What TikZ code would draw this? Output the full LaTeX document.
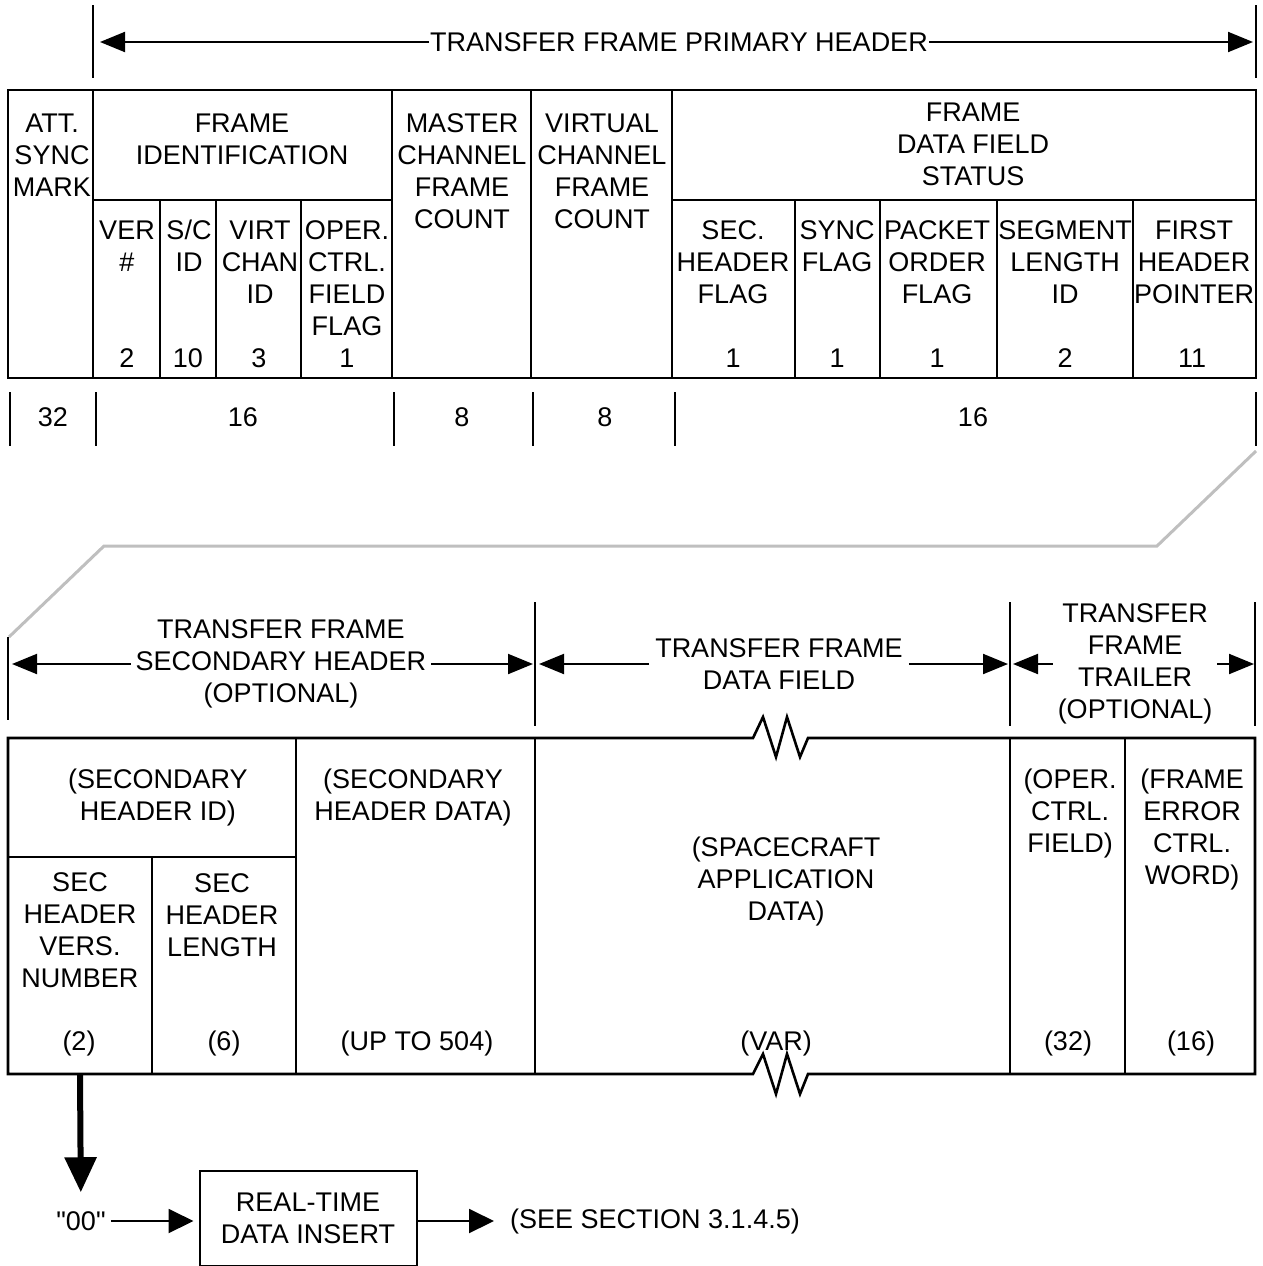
\documentclass[tikz,border=0pt]{standalone}
\usepackage{fontspec}
\setmainfont{Liberation Sans}[Ligatures=TeXOff]
\usetikzlibrary{arrows.meta,positioning}

\tikzset{
  lbl/.style={align=center, inner sep=5pt, font=\fontsize{27}{32}\selectfont},
  span/.style={lbl, fill=white, inner ysep=0pt},
  grid/.style={line width=2.6pt},
  tick/.style={line width=2pt},
  dim/.style={line width=2pt, -{Triangle[length=25pt,width=20pt]}},
  flow/.style={line width=2pt, -{Triangle[length=25pt,width=24pt]}},
  bigflow/.style={line width=6pt, -{Triangle[length=35pt,width=31pt]}},
  fold/.style={line width=3pt, draw=black!25},
}

\begin{document}
\begin{tikzpicture}[x=1pt,y=-1pt]
  \useasboundingbox (0,0) rectangle (1262,1266);

  %primary header span
  \draw[tick] (93,5) -- (93,78);
  \draw[tick] (1256,5) -- (1256,78);
  \node[span, inner xsep=1pt] (primary) at (679,42) {TRANSFER FRAME PRIMARY HEADER};
  \coordinate (primary l) at (100,42);
  \coordinate (primary r) at (1253,42);
  \draw[dim] (primary) -- (primary l);
  \draw[dim] (primary) -- (primary r);

  %primary header table
  \draw[grid] (8,90) rectangle (1256,378);
  \foreach \x in {93,392,531,672} \draw[grid] (\x,90) -- (\x,378);
  \draw[grid] (93,200) -- (392,200) (672,200) -- (1256,200);
  \foreach \x in {160,216,301,795,880,997,1133} \draw[grid] (\x,200) -- (\x,378);

  \node[lbl] (att) at (52,155) {ATT.\\SYNC\\MARK};
  \node[lbl] (frameid) at (242,139) {FRAME\\IDENTIFICATION};
  \node[lbl] (ver) at (127,246) {VER\\\#};
  \node[lbl] (scid) at (189,246) {S/C\\ID};
  \node[lbl] (vcid) at (260,262) {VIRT\\CHAN\\ID};
  \node[lbl] (ocf) at (347,278) {OPER.\\CTRL.\\FIELD\\FLAG};
  \node[lbl] (mcfc) at (462,171) {MASTER\\CHANNEL\\FRAME\\COUNT};
  \node[lbl] (vcfc) at (602,171) {VIRTUAL\\CHANNEL\\FRAME\\COUNT};
  \node[lbl] (fdfs) at (973,144) {FRAME\\DATA FIELD\\STATUS};
  \node[lbl] (shf) at (733,262) {SEC.\\HEADER\\FLAG};
  \node[lbl] (sync) at (837,246) {SYNC\\FLAG};
  \node[lbl] (pof) at (937,262) {PACKET\\ORDER\\FLAG};
  \node[lbl] (slid) at (1065,262) {SEGMENT\\LENGTH\\ID};
  \node[lbl] (fhp) at (1194,262) {FIRST\\HEADER\\POINTER};

  %field widths
  \node[lbl] (ver bits) at (127,358) {2};
  \node[lbl] (scid bits) at (188,358) {10};
  \node[lbl] (vcid bits) at (259,358) {3};
  \node[lbl] (ocf bits) at (347,358) {1};
  \node[lbl] (shf bits) at (733,358) {1};
  \node[lbl] (sync bits) at (837,358) {1};
  \node[lbl] (pof bits) at (937,358) {1};
  \node[lbl] (slid bits) at (1065,358) {2};
  \node[lbl] (fhp bits) at (1192,358) {11};

  %bit counts
  \foreach \x in {10,96,394,533,675,1256} \draw[tick] (\x,392) -- (\x,446);
  \node[lbl] (att n) at (53,417) {32};
  \node[lbl] (frameid n) at (243,417) {16};
  \node[lbl] (mcfc n) at (462,417) {8};
  \node[lbl] (vcfc n) at (605,417) {8};
  \node[lbl] (fdfs n) at (973,417) {16};

  %fold over
  \draw[fold] (1256,451) -- (1157,546) -- (104,546) -- (9,637);

  %lower spans
  \draw[tick] (8,637) -- (8,720);
  \foreach \x in {535,1010,1255} \draw[tick] (\x,602) -- (\x,726);
  \node[span] (sechdr) at (281,664) {TRANSFER FRAME\\SECONDARY HEADER\\(OPTIONAL)};
  \node[span, inner xsep=6pt] (datafield) at (779,664) {TRANSFER FRAME\\DATA FIELD};
  \node[span] (trailer) at (1135,664) {TRANSFER\\FRAME\\TRAILER\\(OPTIONAL)};
  \coordinate (sechdr l) at (12,664);
  \coordinate (sechdr r) at (533,664);
  \coordinate (datafield l) at (539,664);
  \coordinate (datafield r) at (1008,664);
  \coordinate (trailer l) at (1013,664);
  \coordinate (trailer r) at (1254,664);
  \draw[dim] (sechdr) -- (sechdr l);
  \draw[dim] (sechdr) -- (sechdr r);
  \draw[dim] (datafield) -- (datafield l);
  \draw[dim] (datafield) -- (datafield r);
  \draw[dim] (trailer) -- (trailer l);
  \draw[dim] (trailer) -- (trailer r);

  %lower table, broken data field
  \draw[grid] (753,738) -- (8,738) -- (8,1074) -- (753,1074)
    -- (763,1054) -- (776,1094) -- (787,1054) -- (800,1094) -- (808,1074)
    -- (1255,1074) -- (1255,738) -- (808,738)
    -- (800,757) -- (787,717) -- (776,757) -- (763,717) -- cycle;
  \foreach \x in {296,535,1010,1125} \draw[grid] (\x,738) -- (\x,1074);
  \draw[grid] (8,857) -- (296,857);
  \draw[grid] (152,857) -- (152,1074);

  \node[lbl] (shid) at (158,798) {(SECONDARY\\HEADER ID)};
  \node[lbl] (shdata) at (413,798) {(SECONDARY\\HEADER DATA)};
  \node[lbl] (shvn) at (80,930) {SEC\\HEADER\\VERS.\\NUMBER};
  \node[lbl] (shlen) at (222,915) {SEC\\HEADER\\LENGTH};
  \node[lbl] (appdata) at (786,882) {(SPACECRAFT\\APPLICATION\\DATA)};
  \node[lbl] (ocfield) at (1070,814) {(OPER.\\CTRL.\\FIELD)};
  \node[lbl] (fecw) at (1192,830) {(FRAME\\ERROR\\CTRL.\\WORD)};

  \node[lbl] (shvn bits) at (79,1043) {(2)};
  \node[lbl] (shlen bits) at (224,1043) {(6)};
  \node[lbl] (shdata bits) at (417,1043) {(UP TO 504)};
  \node[lbl] (appdata bits) at (776,1043) {(VAR)};
  \node[lbl] (ocfield bits) at (1068,1043) {(32)};
  \node[lbl] (fecw bits) at (1191,1043) {(16)};

  %real-time insert
  \coordinate (shvn foot) at (80,1074);
  \node[lbl] (zero) at (81,1221) {"00"};
  \node[draw, line width=2pt, lbl, minimum width=217pt, minimum height=95pt] (rtdi) at (308,1218) {REAL-TIME\\DATA INSERT};
  \node[lbl] (see) at (655,1221) {(SEE SECTION 3.1.4.5)};
  \draw[bigflow, shorten >=14pt] (shvn foot) -- (zero);
  \draw[flow, shorten >=5pt] (zero) -- (zero -| rtdi.west);
  \draw[flow, shorten >=11pt] (rtdi.east |- see) -- (see);
\end{tikzpicture}
\end{document}
